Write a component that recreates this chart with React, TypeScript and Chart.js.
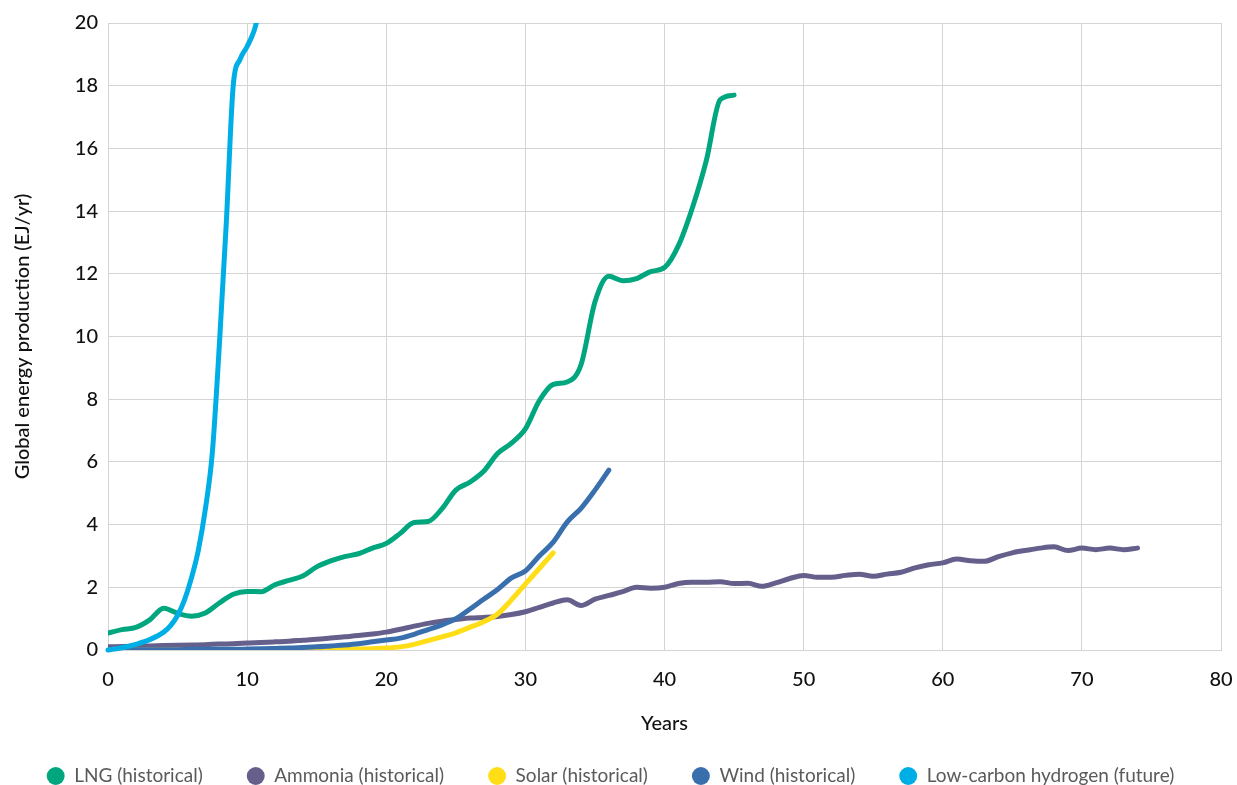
import React, { useEffect, useRef } from "react";
import { Chart, registerables } from "chart.js";

Chart.register(...registerables);

// ---- Data ----
const lngValues = [
  0.54, 0.65, 0.72, 0.96, 1.33, 1.17, 1.08, 1.18, 1.5, 1.78,
  1.87, 1.86, 2.08, 2.22, 2.36, 2.65, 2.84, 2.98, 3.07, 3.25,
  3.4, 3.72, 4.07, 4.1, 4.5, 5.1, 5.35, 5.7, 6.27, 6.6,
  7.05, 7.95, 8.47, 8.55, 9.1, 11.1, 11.92, 11.78, 11.85, 12.07,
  12.2, 12.9, 14.1, 15.6, 17.55, 17.7,
];

const ammoniaValues = [
  0.1, 0.11, 0.12, 0.13, 0.14, 0.15, 0.16, 0.17, 0.19, 0.2,
  0.22, 0.24, 0.26, 0.28, 0.31, 0.34, 0.38, 0.42, 0.46, 0.51,
  0.57, 0.66, 0.76, 0.85, 0.92, 0.97, 1.02, 1.04, 1.07, 1.13,
  1.22, 1.36, 1.5, 1.6, 1.42, 1.62, 1.74, 1.86, 2.0, 1.97,
  2.0, 2.12, 2.16, 2.16, 2.18, 2.12, 2.13, 2.03, 2.14, 2.28,
  2.38, 2.32, 2.32, 2.38, 2.42, 2.35, 2.42, 2.48, 2.62, 2.72,
  2.78, 2.9, 2.85, 2.83, 2.98, 3.1, 3.18, 3.25, 3.29, 3.17,
  3.25, 3.2, 3.25, 3.2, 3.25,
];

const solarValues = [
  0, 0, 0, 0, 0, 0, 0, 0, 0, 0,
  0, 0, 0, 0, 0, 0.01, 0.01, 0.02, 0.03, 0.04,
  0.06, 0.1, 0.18, 0.3, 0.42, 0.55, 0.72, 0.9, 1.15, 1.6,
  2.1, 2.6, 3.1,
];

const windValues = [
  0.01, 0.01, 0.01, 0.01, 0.01, 0.01, 0.02, 0.02, 0.02, 0.02,
  0.03, 0.04, 0.05, 0.06, 0.08, 0.1, 0.13, 0.16, 0.2, 0.26,
  0.32, 0.38, 0.5, 0.65, 0.8, 1.0, 1.3, 1.62, 1.93, 2.3,
  2.52, 3.0, 3.44, 4.08, 4.52, 5.1, 5.74,
];

const hydrogenYears = [0, 1, 2, 3, 4, 4.5, 5, 5.5, 6, 6.5, 7, 7.5, 8, 8.5, 9, 9.5, 10, 10.5, 11];
const hydrogenValues = [0, 0.07, 0.18, 0.33, 0.57, 0.78, 1.1, 1.6, 2.3, 3.2, 4.5, 6.3, 9.7, 13.6, 18.0, 18.85, 19.25, 19.75, 20.6];

const seriesLabels = [
  "LNG (historical)",
  "Ammonia (historical)",
  "Solar (historical)",
  "Wind (historical)",
  "Low-carbon hydrogen (future)",
];
const seriesColors = ["#00A67E", "#655F8C", "#FFDD17", "#3A6FAE", "#00AEE6"];

const xTickMin = 0;
const xTickMax = 80;
const xTickStep = 10;
const yTickMin = 0;
const yTickMax = 20;
const yTickStep = 2;

const xTitle = "Years";
const yTitle = "Global energy production (EJ/yr)";

const yearly = (vals: number[]) => vals.map((v, i) => ({ x: i, y: v }));

export default function App() {
  const canvasRef = useRef<HTMLCanvasElement | null>(null);

  useEffect(() => {
    if (!canvasRef.current) return;
    const fontFamily = "Lato, 'Open Sans', sans-serif";
    const gridColor = "#D4D4D4";
    const LEG_PAD = 44;

    const mk = (idx: number, data: { x: number; y: number }[], order: number, extra: any = {}) => ({
      label: seriesLabels[idx],
      data,
      borderColor: seriesColors[idx],
      backgroundColor: seriesColors[idx],
      borderWidth: 5,
      pointRadius: 0,
      pointHoverRadius: 0,
      cubicInterpolationMode: "monotone" as const,
      borderCapStyle: "round" as const,
      borderJoinStyle: "round" as const,
      fill: false,
      order,
      ...extra,
    });

    const chart = new Chart(canvasRef.current, {
      type: "line",
      data: {
        datasets: [
          mk(0, yearly(lngValues), 3),
          mk(1, yearly(ammoniaValues), 4),
          mk(2, yearly(solarValues), 2),
          mk(3, yearly(windValues), 1),
          mk(4, hydrogenYears.map((x, i) => ({ x, y: hydrogenValues[i] })), 0, {
            clip: { left: 5, right: 5, top: 0, bottom: 5 },
          }),
        ],
      },
      options: {
        animation: false,
        responsive: false,
        maintainAspectRatio: false,
        layout: { padding: { top: 23, right: 16, left: 0, bottom: -10.5 } },
        plugins: {
          tooltip: { enabled: false },
          legend: {
            position: "bottom",
            labels: {
              usePointStyle: true,
              pointStyle: "circle",
              boxWidth: 18,
              boxHeight: 12.7,
              padding: LEG_PAD,
              color: "#5A5A5A",
              font: { family: fontFamily, size: 19, weight: "normal" },
              sort: (a: any, b: any) => a.datasetIndex - b.datasetIndex,
              generateLabels: (ch: any) => {
                const items = Chart.defaults.plugins.legend.labels.generateLabels(ch);
                return items.map((it: any) => ({ ...it, lineWidth: 0, strokeStyle: "rgba(0,0,0,0)" }));
              },
            },
          },
        },
        scales: {
          x: {
            type: "linear",
            min: xTickMin,
            max: xTickMax,
            afterFit: (scale: any) => {
              scale.height = 116.5 - LEG_PAD;
              scale.paddingLeft = 0;
              scale.paddingRight = 0;
            },
            ticks: {
              stepSize: xTickStep,
              color: "#111",
              padding: 18,
              maxRotation: 0,
              font: { family: fontFamily, size: 20, weight: "500" },
            },
            grid: { color: gridColor, lineWidth: 1, drawTicks: false },
            border: { color: gridColor, width: 1 },
            title: {
              display: true,
              text: xTitle,
              color: "#111",
              font: { family: fontFamily, size: 20, weight: "500" },
              padding: { top: 0, bottom: -13.5 },
            },
          },
          y: {
            type: "linear",
            min: yTickMin,
            max: yTickMax,
            afterFit: (scale: any) => {
              scale.width = 108;
              scale.paddingTop = 0;
              scale.paddingBottom = 0;
            },
            ticks: {
              stepSize: yTickStep,
              color: "#111",
              padding: 10,
              font: { family: fontFamily, size: 20, weight: "500" },
            },
            grid: { color: gridColor, lineWidth: 1, drawTicks: false },
            border: { color: gridColor, width: 1 },
            title: {
              display: true,
              text: yTitle,
              color: "#111",
              font: { family: fontFamily, size: 20, weight: "500" },
              padding: { top: 11, bottom: 0 },
            },
          },
        },
      },
    });

    return () => chart.destroy();
  }, []);

  return (
    <div style={{ position: "absolute", left: 0, top: 0, width: 1237, height: 785, background: "#fff" }}>
      <canvas ref={canvasRef} width={1237} height={785} style={{ display: "block", width: 1237, height: 785 }} />
    </div>
  );
}
